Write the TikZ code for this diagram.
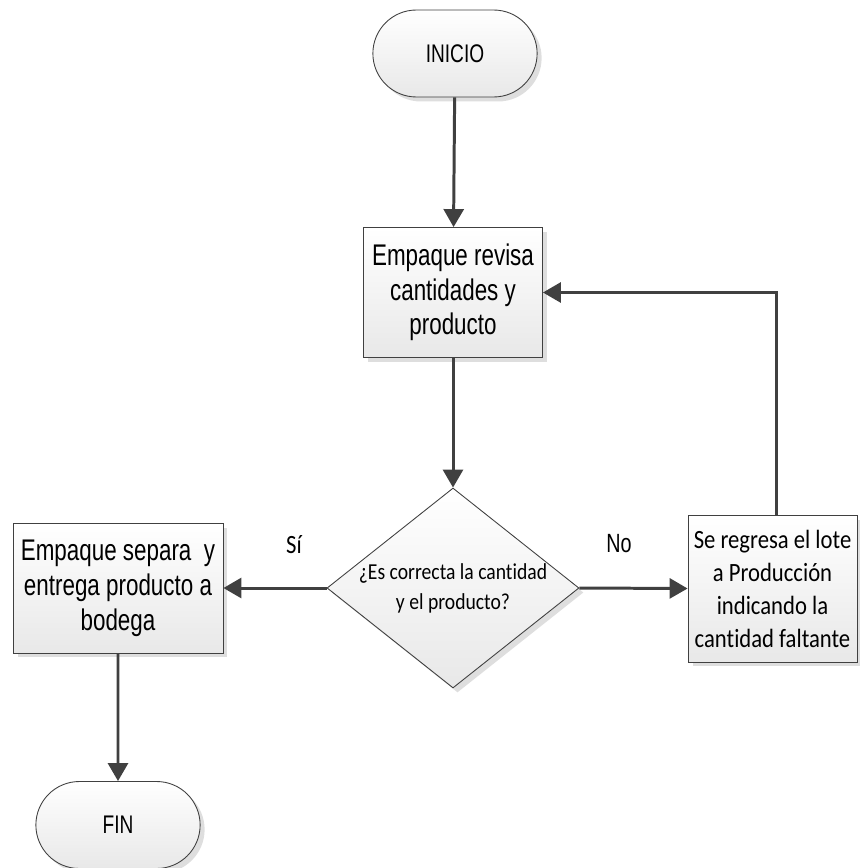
\documentclass[tikz,border=0pt]{standalone}
\usepackage{fontspec}
\usetikzlibrary{shapes.geometric,shapes.misc,shadows,arrows.meta}
\newfontfamily\arialn[FakeStretch=0.75]{Liberation Sans}
\newfontfamily\calib[FakeStretch=0.86,Ligatures=CommonOff]{Carlito}
\definecolor{linegray}{HTML}{404040}
\begin{document}
\begin{tikzpicture}[x=0.02cm,y=-0.02cm,
    shape base/.style={draw=linegray,line width=0.5pt,shading=axis,top color=white,bottom color=black!9,
        drop shadow={shadow xshift=0.09cm,shadow yshift=-0.09cm,fill=black!13,opacity=1}},
    terminal/.style={shape base,rounded rectangle,minimum width=3.52cm,minimum height=1.74cm,
        font=\arialn\fontsize{14.5}{16}\selectfont},
    process/.style={shape base,rectangle,align=center,inner sep=0pt},
    decision/.style={shape base,diamond,minimum width=5.04cm,minimum height=4cm,inner sep=0pt},
    flow/.style={draw=linegray,line width=1.7pt,-{Triangle[length=0.36cm,width=0.4cm]}}]
    \useasboundingbox (0,0) rectangle (859,868);

    \node[terminal] (inicio) at (455,53.5) {INICIO};
    \node[process,minimum width=3.58cm,minimum height=2.6cm,
        font=\arialn\fontsize{17}{19.6}\selectfont] (revisa) at (453,292.5)
        {Empaque revisa\\cantidades y\\producto};
    \node[decision,label={[align=center,font=\calib\fontsize{13}{17}\selectfont]center:{¿Es correcta la cantidad\\y el producto?}}]
        (correcta) at (453,588) {};
    \node[process,minimum width=4.2cm,minimum height=2.6cm,
        font=\arialn\fontsize{17}{20}\selectfont] (separa) at (118,588)
        {Empaque separa~~y\\entrega producto a\\bodega};
    \node[process,minimum width=3.38cm,minimum height=2.94cm,
        font=\calib\fontsize{15}{18.8}\selectfont] (regresa) at (772.5,588.5)
        {Se regresa el lote\\a Producción\\indicando la\\cantidad faltante};
    \node[terminal] (fin) at (118,825) {FIN};

    \node[font=\calib\fontsize{15}{18}\selectfont] (si) at (294,545) {Sí};
    \node[font=\arialn\fontsize{15}{18}\selectfont] (no) at (619,544) {No};

    \draw[flow] (inicio) -- (revisa);
    \draw[flow] (revisa) -- (correcta);
    \draw[flow] (correcta.west) -- (separa.east);
    \draw[flow] (correcta.east) -- (regresa.west);
    \draw[flow] ([xshift=0.07cm]regresa.north) |- (revisa.east);
    \draw[flow] (separa) -- (fin);
\end{tikzpicture}
\end{document}
